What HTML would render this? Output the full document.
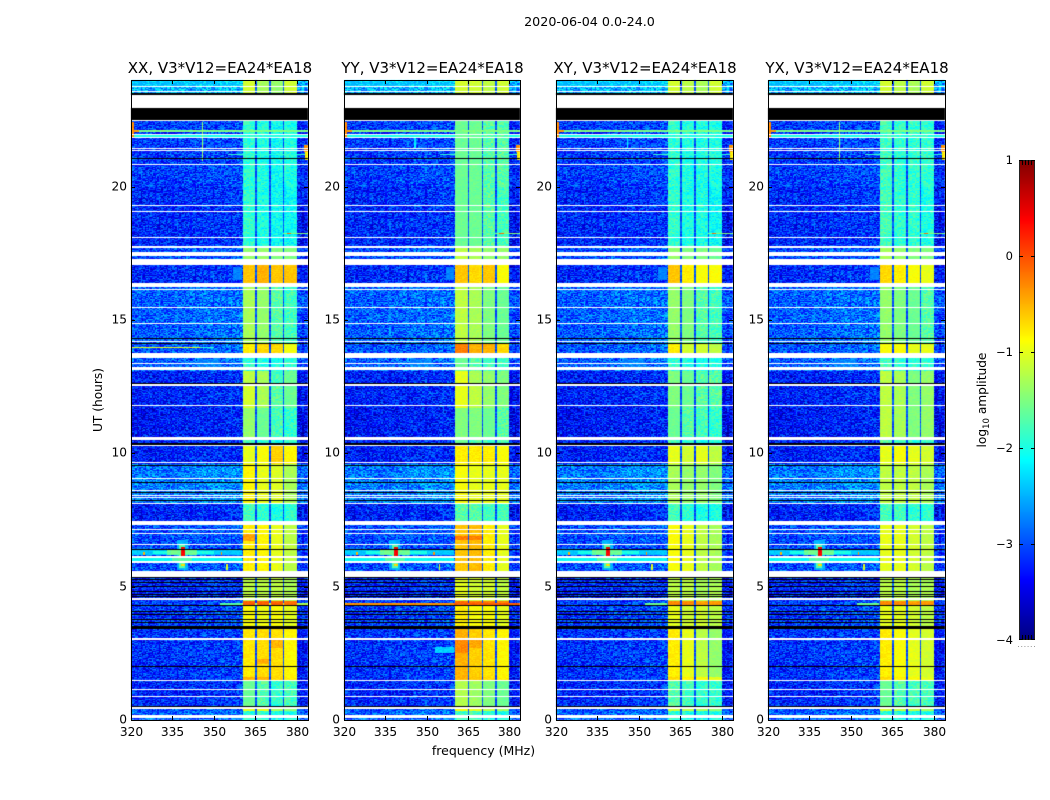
<!DOCTYPE html>
<html lang="en">
<head>
<meta charset="utf-8">
<title>2020-06-04 spectrogram</title>
<style>
html,body{margin:0;padding:0;background:#fff;}
#figure{position:relative;width:1050px;height:800px;background:#fff;overflow:hidden;font-family:"DejaVu Sans","Liberation Sans",sans-serif;}
canvas{position:absolute;display:block;}
svg{position:absolute;left:0;top:0;}
text{font-family:"DejaVu Sans","Liberation Sans",sans-serif;fill:#000;}
</style>
</head>
<body>
<div id="figure">
<svg id="overlay" width="1050" height="800"></svg>
</div>
<script>
// ---- chart data (hours, MHz, log10 amplitude) ----
const panelTitles = ['XX, V3*V12=EA24*EA18','YY, V3*V12=EA24*EA18','XY, V3*V12=EA24*EA18','YX, V3*V12=EA24*EA18'];
const freqTicks = [320,335,350,365,380];
const hourTicks = [0,5,10,15,20];
const colorTicks = [-4,-3,-2,-1,0,1];
const segmentStarts = [0,0.33,0.5,1.5,1.62,3.4,4.3,4.45,5.34,5.6,7.46,8.1,9.6,10.3,10.6,11.7,12.6,13.1,13.76,14.15,16.4,17.05,17.7,20,22.5,23.42];
const backgroundLevels = [-2.95,-3.05,-3.25,-3.25,-3.2,-3.15,-3.15,-3.25,-3.25,-3.05,-3.3,-2.8,-3.3,-3.25,-3.35,-3.3,-3.3,-2.95,-3.0,-2.95,-3.25,-3.05,-3.25,-3.15,-3.25,-2.55];
const bandXX = [[-1.9,-1.9,-2,-2],[-1,-1,-1.3,-1.4],[-1.6,-1.7,-1.9,-1.8],[-.5,-.5,-.7,-.8],[-.78,-.72,-.72,-.85],[-.9,-.95,-.9,-1],[-.1,-.1,-.1,-.2],[-1.2,-1.2,-1.2,-1.3],[-1.2,-1.2,-1.2,-1.3],[-.8,-.85,-1,-1.2],[-1.8,-1.9,-2,-1.9],[-.85,-1,-1.05,-1.3],[-1,-.9,-.65,-.85],[-1.8,-1.9,-2,-1.9],[-1.4,-1.6,-1.8,-1.9],[-1.1,-1.3,-1.7,-1.6],[-1.2,-1.3,-1.8,-1.6],[-1.9,-2,-2,-1.9],[-.8,-.7,-.7,-.95],[-1.3,-1.4,-1.7,-1.8],[-.6,-.5,-.6,-.6],[-1.4,-1.4,-1.5,-1.5],[-1.9,-2,-2.1,-2.1],[-1.9,-2,-2.1,-2],[-2,-2,-2,-2],[-1.1,-1.3,-1.4,-1.1]];
const bandYY = [[-1.8,-1.8,-1.9,-2],[-.9,-1,-1.2,-1.3],[-1.25,-1.35,-1.5,-1.6],[-.5,-.6,-.7,-.8],[-.5,-.65,-.75,-.85],[-.8,-.9,-.9,-1],[-.15,-.2,-.2,-.3],[-1,-1.1,-1.1,-1.2],[-1,-1.1,-1.1,-1.2],[-.6,-.55,-.8,-1],[-1.7,-1.7,-1.8,-1.8],[-.9,-1,-1,-1],[-.8,-.8,-.8,-.9],[-1.6,-1.7,-1.8,-1.8],[-1.5,-1.5,-1.6,-1.7],[-1,-1.2,-1.4,-1.5],[-1,-1.3,-1.4,-1.5],[-1.6,-1.7,-1.8,-1.8],[-.25,-.5,-.5,-.7],[-1.2,-1.3,-1.5,-1.6],[-.6,-.7,-.6,-.9],[-1.2,-1.3,-1.4,-1.4],[-1.6,-1.6,-1.7,-1.8],[-1.6,-1.6,-1.7,-1.7],[-2,-2,-2,-2],[-1.1,-1.1,-1.2,-1.1]];
const bandXY = [[-1.9,-2,-2,-2],[-1.1,-1.2,-1.3,-1.4],[-1.7,-1.8,-1.9,-1.9],[-.7,-.8,-.9,-1],[-.8,-1,-1.2,-1.4],[-1,-1.1,-1.1,-1.2],[-.3,-.3,-.4,-.4],[-1.2,-1.2,-1.3,-1.3],[-1.2,-1.2,-1.3,-1.3],[-.9,-1,-1.2,-1.3],[-1.8,-1.9,-2,-2],[-1.3,-1.4,-1.4,-1.5],[-1,-1.1,-1,-1.2],[-1.8,-1.9,-2,-2],[-1.6,-1.7,-1.8,-1.9],[-1.5,-1.6,-1.7,-1.7],[-1.5,-1.6,-1.7,-1.7],[-1.9,-2,-2,-2],[-.8,-1.1,-1.1,-1.2],[-1.4,-1.5,-1.7,-1.8],[-.6,-.8,-.9,-.9],[-1.4,-1.5,-1.5,-1.6],[-1.9,-2,-2,-2.1],[-1.9,-2,-2,-2],[-2,-2,-2,-2],[-1.1,-1.2,-1.3,-1.1]];
const bandYX = [[-1.9,-2,-2,-2],[-1.1,-1.2,-1.2,-1.3],[-1.6,-1.7,-1.8,-1.8],[-.7,-.8,-.9,-1],[-.8,-.9,-1,-1.1],[-1,-1,-1.1,-1.2],[-.3,-.3,-.4,-.4],[-1.2,-1.2,-1.3,-1.3],[-1.2,-1.2,-1.3,-1.3],[-1,-1,-1.1,-1.2],[-1.8,-1.8,-1.9,-1.9],[-1.2,-1.2,-1.2,-1.3],[-1,-.9,-1,-1.1],[-1.7,-1.8,-1.9,-1.9],[-1.2,-1.3,-1.5,-1.4],[-1.2,-1.3,-1.5,-1.4],[-1.2,-1.3,-1.5,-1.4],[-1.8,-1.9,-1.9,-1.9],[-.9,-.9,-1,-1],[-1.4,-1.5,-1.6,-1.7],[-.7,-.8,-.9,-1],[-1.3,-1.4,-1.5,-1.5],[-1.8,-1.9,-1.9,-2],[-1.8,-1.9,-1.9,-1.9],[-2,-2,-2,-2],[-1.1,-1.2,-1.3,-1.1]];
const subBandEdges = [[360.4,364.8],[365.5,369.8],[370.5,374.9],[375.6,380]];
const backgroundByFreq = [0,0,0,.03,.05,.08,.08,.1,.15,.2,-.05,-.05,-.1];
const whiteGaps = [[.08,.19],[.43,.49],[.85,.9],[1.13,1.17],[1.46,1.5],[3,3.06],[4.5,4.59],[5.36,5.59],[5.89,5.96],[6.08,6.15],[6.56,6.6],[6.98,7.03],[7.13,7.17],[7.31,7.46],[8.1,8.14],[8.33,8.36],[8.4,8.44],[8.59,8.63],[9.04,9.08],[9.64,9.68],[10.26,10.3],[10.5,10.61],[11.76,11.81],[12.53,12.6],[13.13,13.24],[13.35,13.39],[13.58,13.76],[14.18,14.21],[14.85,14.89],[15.45,15.49],[16.13,16.16],[16.24,16.39],[17.06,17.29],[17.41,17.55],[17.7,17.78],[18.08,18.11],[19.05,19.09],[19.26,19.31],[20.8,20.85],[21.34,21.38],[21.41,21.45],[21.83,21.86],[21.94,21.98],[22.45,22.5],[22.96,23.42],[23.55,23.59],[23.72,23.76]];
const blackGaps = [[.49,.52],[1.99,2.03],[3.41,3.53],[3.65,3.68],[3.75,3.78],[3.85,3.88],[3.94,3.97],[4.06,4.09],[4.29,4.32],[4.61,4.64],[4.69,4.72],[4.75,4.78],[4.81,4.84],[4.9,4.93],[4.99,5.03],[5.13,5.16],[5.25,5.28],[5.33,5.36],[6.37,6.41],[8.2,8.24],[8.52,8.56],[8.88,8.92],[9.17,9.2],[9.53,9.56],[10.33,10.37],[11.65,11.68],[12.61,12.65],[14.1,14.13],[14.28,14.31],[15.06,15.09],[15.66,15.69],[17.31,17.34],[17.61,17.64],[19.67,19.7],[20.31,20.34],[21.03,21.06],[22.5,22.96],[23.42,23.53]];
// [panels, freq low, freq high, hour low, hour high, level]
const features = [
 ['0123',320,360,6.2,6.36,-2.4],['0123',328,350,6.22,6.34,-2],['0123',333,344,6.2,6.36,-1.6],
 ['0123',320,360,5.96,6.08,-2.1],['0123',335,342,5.9,6.1,-1.7],
 ['0123',336.5,340.5,5.62,6.75,-2.5],['0123',337.5,339.5,5.7,6.6,-1.7],['0123',338,339.5,6.12,6.5,.4],['0123',338,339.5,5.76,5.86,-.7],
 ['0123',324.5,325,6.2,6.3,-.5],['0123',352.5,353,6.2,6.3,-.3],['0123',354.5,355,5.62,5.85,-1],
 ['0123',320,384,22.06,22.12,-1.5],['0123',320,321,21.85,22.42,-.3],['0123',321,323,22.06,22.14,-.4],['0123',320,384,21.87,21.92,-2],
 ['03',345.5,346,20.95,22.42,-1.4],['12',345.5,346,21.4,21.9,-2.2],
 ['0123',382.5,384,21.3,21.55,-.3],['0123',383,384,21,21.3,-.8],['0123',355,384,21.18,21.23,-1.9],
 ['0123',375,384,18.22,18.28,-1.5],['0123',376.5,378,18.22,18.28,-.1],
 ['0',352,360,4.33,4.4,-1.7],['0',360,384,4.33,4.4,-1.3],['1',320,360,4.33,4.4,-.35],['1',360,384,4.33,4.4,-.1],['23',352,360,4.33,4.4,-1.6],
 ['0',320,345,13.96,14.0,-1],['0',345,350,13.96,14.0,-1.9],['0',320,345,9.03,9.08,-.6],['1',320,345,9.03,9.08,-1.7],
 ['0123',344,352,13.24,13.55,-2.75],['0123',357,360,16.5,17,-2.75],['1',353,360,2.5,2.75,-2.35],['0123',320,360,23.76,24,-2.45],
 ['1',360.4,364.8,6.75,6.9,-.25],['1',365.5,369.8,6.75,6.9,-.25],['0',360.4,364.8,6.7,7,-.45],
 ['1',360.4,364.8,2.5,3,-.3],['1',365.5,369.8,2.7,3,-.45],['0',365.5,369.8,2.1,2.3,-.5],['0',370.5,374.9,2.7,3,-.5]
];
// hand-typed speckle offsets used only as fine pixel texture
const grain = [.3,-.2,.1,-.35,.25,.05,-.15,.4,-.3,.15,-.05,.2,-.4,.35,0,-.25,.1,.3,-.1,-.3,.2,-.2,.45,-.05,-.35,.15,.05,-.15,.3,-.45,.25,-.1,.1,.35,-.25,0,.2,-.3,.15,-.2,.4];

// ---- layout and axis functions ----
const axesLeft = [131,344,556,768];
const axesWidth = [177,176,177,177];
const axesTop = 80, axesHeight = 640;
const freqMin = 320, freqMax = 384, hourMin = 0, hourMax = 24;
function xScale(p,f){return axesLeft[p]+(f-freqMin)/(freqMax-freqMin)*axesWidth[p];}
function yScale(h){return axesTop+(hourMax-h)/(hourMax-hourMin)*axesHeight;}
function jet(t){
  t=Math.max(0,Math.min(1,t));
  const c=v=>Math.round(255*Math.max(0,Math.min(1,v)));
  return 'rgb('+c(1.5-Math.abs(4*t-3))+','+c(1.5-Math.abs(4*t-2))+','+c(1.5-Math.abs(4*t-1))+')';
}
function colorOf(level){return jet((level+4)/5);}
function inAny(list,h){for(const g of list){if(h>=g[0]&&h<g[1])return true;}return false;}
function segmentIndex(h){let s=0;for(let k=0;k<segmentStarts.length;k++){if(h>=segmentStarts[k])s=k;}return s;}
const bandTables=[bandXX,bandYY,bandXY,bandYX];

function cellLevel(p,f,h,i,j,seg){
  let base=backgroundLevels[seg]+backgroundByFreq[Math.min(backgroundByFreq.length-1,Math.floor((f-freqMin)/5))];
  const g=grain[(i*17+j*29+(i*j)%13)%grain.length];
  let level=base+g*1.2;
  if(f>=360.4&&f<380){level=-3.0+g*.5;}
  for(let b=0;b<subBandEdges.length;b++){
    if(f>=subBandEdges[b][0]&&f<subBandEdges[b][1]){
      const v=bandTables[p][seg][b];
      level=v+g*(v<-1.6?.6:.2);
      break;
    }
  }
  for(const ft of features){
    if(ft[0].indexOf(String(p))>=0&&f>=ft[1]&&f<ft[2]&&h>=ft[3]&&h<ft[4]){
      level=Math.max(level,ft[5]+g*.25);
    }
  }
  return level;
}

const figure=document.getElementById('figure');
const overlay=document.getElementById('overlay');
const NS='http://www.w3.org/2000/svg';
const dF=0.5,dH=0.0375;

function drawHeatmap(p){
  const cv=document.createElement('canvas');
  
  
  cv.width=1050;cv.height=800;
  cv.style.left='0px';cv.style.top='0px';
  const ctx=cv.getContext('2d');
  const nF=Math.round((freqMax-freqMin)/dF),nH=Math.round((hourMax-hourMin)/dH);
  for(let j=0;j<nH;j++){
    const h=hourMin+(j+.5)*dH;
    const y0=Math.round(yScale(hourMin+(j+1)*dH)),y1=Math.round(yScale(hourMin+j*dH));
    let flat=null;
    if(inAny(blackGaps,h))flat='#000';
    else if(inAny(whiteGaps,h))flat='#fff';
    if(flat){ctx.fillStyle=flat;ctx.fillRect(axesLeft[p],y0,axesWidth[p],y1-y0);continue;}
    const seg=segmentIndex(h);
    for(let i=0;i<nF;i++){
      const f=freqMin+(i+.5)*dF;
      const x0=Math.round(xScale(p,freqMin+i*dF)),x1=Math.round(xScale(p,freqMin+(i+1)*dF));
      ctx.fillStyle=colorOf(cellLevel(p,f,h,i,j,seg));
      ctx.fillRect(x0,y0,x1-x0,y1-y0);
    }
  }
  figure.insertBefore(cv,overlay);
}

function addLine(parent,name,x1,y1,x2,y2,color){
  const el=document.createElementNS(NS,'line');
  
  
  el.setAttribute('x1',x1);el.setAttribute('y1',y1);el.setAttribute('x2',x2);el.setAttribute('y2',y2);
  el.setAttribute('stroke',color||'#000');el.setAttribute('stroke-width','1');
  parent.appendChild(el);
}
function addText(parent,name,x,y,str,size,anchor,rot){
  const el=document.createElementNS(NS,'text');
  
  
  el.setAttribute('x',x);el.setAttribute('y',y);
  el.setAttribute('font-size',size);el.setAttribute('text-anchor',anchor||'middle');
  if(rot)el.setAttribute('transform','rotate('+rot+' '+x+' '+y+')');
  el.textContent=str;
  parent.appendChild(el);
  return el;
}

function drawAxes(p){
  const g=document.createElementNS(NS,'g');
  
  
  const L=axesLeft[p],R=L+axesWidth[p],T=axesTop,B=axesTop+axesHeight;
  const frame=document.createElementNS(NS,'rect');
  
  
  frame.setAttribute('x',L+.5);frame.setAttribute('y',T+.5);
  frame.setAttribute('width',axesWidth[p]);frame.setAttribute('height',axesHeight);
  frame.setAttribute('fill','none');frame.setAttribute('stroke','#000');
  g.appendChild(frame);
  freqTicks.forEach(f=>{
    const x=Math.round(xScale(p,f))+.5;
    addLine(g,'x-tick-'+f,x,B,x,B-4);
    addLine(g,'x-tick-top-'+f,x,T,x,T+4);
    addText(g,'x-tick-label-'+f,x,B+16,String(f),12.2);
  });
  hourTicks.forEach(h=>{
    const y=Math.round(yScale(h))+.5;
    addLine(g,'y-tick-'+h,L,y,L+4,y);
    addLine(g,'y-tick-right-'+h,R,y,R-4,y);
    addText(g,'y-tick-label-'+h,L-4,y+3,String(h),12.2,'end');
  });
  addText(g,'panel-title-'+panelTitles[p].slice(0,2).toLowerCase(),(L+R)/2+.5,T-7,panelTitles[p],15);
  overlay.appendChild(g);
}

for(let p=0;p<4;p++){drawHeatmap(p);drawAxes(p);}

addText(overlay,'figure-title',589.5,26,'2020-06-04 0.0-24.0',12.7);
addText(overlay,'x-axis-title',483.5,755,'frequency (MHz)',12.5);
addText(overlay,'y-axis-title',102,400,'UT (hours)',12.2,'middle',-90);

// ---- colour bar ----
const cbLeft=1019,cbWidth=16,cbTop=160,cbHeight=480;
function cbY(v){return cbTop+(1-v)/5*cbHeight;}
const cb=document.createElement('canvas');


cb.width=cbWidth;cb.height=cbHeight;
cb.style.left=cbLeft+'px';cb.style.top=cbTop+'px';
const cbx=cb.getContext('2d');
for(let y=0;y<cbHeight;y++){
  cbx.fillStyle=colorOf(1-(y+.5)/cbHeight*5);
  cbx.fillRect(0,y,cbWidth,1);
}
figure.insertBefore(cb,overlay);
const cbg=document.createElementNS(NS,'g');


const cbFrame=document.createElementNS(NS,'rect');


cbFrame.setAttribute('x',cbLeft+.5);cbFrame.setAttribute('y',cbTop+.5);
cbFrame.setAttribute('width',cbWidth-1);cbFrame.setAttribute('height',cbHeight-1);
cbFrame.setAttribute('fill','none');cbFrame.setAttribute('stroke','#222');
cbg.appendChild(cbFrame);
colorTicks.forEach(v=>{
  const y=Math.min(Math.round(cbY(v)),cbTop+cbHeight-1)+.5;
  addLine(cbg,'colorbar-tick-'+v,cbLeft,y,cbLeft+4,y);
  addLine(cbg,'colorbar-tick-right-'+v,cbLeft+cbWidth,y,cbLeft+cbWidth-4,y);
  addText(cbg,'colorbar-tick-label-'+v,cbLeft-6,Math.round(cbY(v))+4,(v<0?'\u2212':'')+Math.abs(v),11.5,'end');
});
for(let k=1;k<5;k++){
  const x=cbLeft+k*3+.5;
  addLine(cbg,'colorbar-top-tick',x,cbTop,x,cbTop+5);
  addLine(cbg,'colorbar-bottom-tick',x,cbTop+cbHeight,x,cbTop+cbHeight-5);
}
for(let k=0;k<6;k++){
  const d=document.createElementNS(NS,'rect');
  
  
  d.setAttribute('x',1018+k*3.2);d.setAttribute('y',646);d.setAttribute('width',1);d.setAttribute('height',1);
  d.setAttribute('fill','#999');
  cbg.appendChild(d);
}
const cbLabel=addText(cbg,'colorbar-title',986,400,'',12.2,'middle',-90);
const t1=document.createElementNS(NS,'tspan');t1.textContent='log';cbLabel.appendChild(t1);
const t2=document.createElementNS(NS,'tspan');t2.setAttribute('font-size','8.5');t2.setAttribute('dy','3');t2.textContent='10';cbLabel.appendChild(t2);
const t3=document.createElementNS(NS,'tspan');t3.setAttribute('dy','-3');t3.textContent=' amplitude';cbLabel.appendChild(t3);
overlay.appendChild(cbg);
</script>
</body>
</html>
